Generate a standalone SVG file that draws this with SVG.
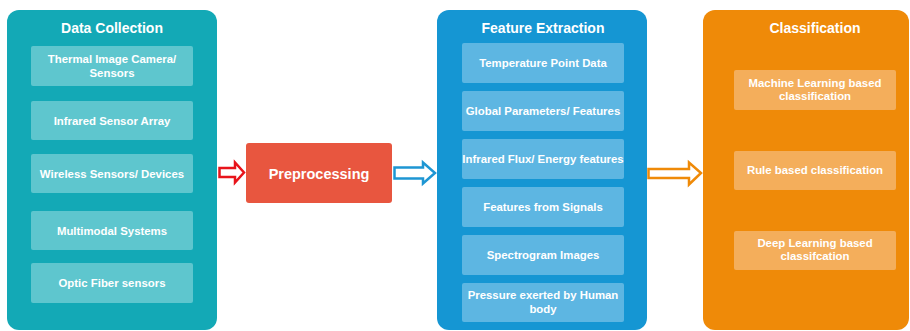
<svg xmlns="http://www.w3.org/2000/svg" width="910" height="331" viewBox="0 0 910 331">
<style>
text{font-family:"Liberation Sans",Arial,sans-serif;font-weight:bold;fill:#fff;text-anchor:middle}
.t{font-size:14px}
.i{font-size:11.4px}
.p1{fill:#13A9B6}.b1{fill:#5EC6CE}
.p2{fill:#1596D3}.b2{fill:#5DB6E2}
.p3{fill:#EF8A08}.b3{fill:#F4AE5B}
.arr{fill:#fff;stroke-width:2.5;stroke-linejoin:miter}
</style>
<rect width="910" height="331" fill="#fff"/>
<g id="data-collection">
<rect class="p1" x="7" y="10" width="210" height="320" rx="12"/>
<text class="t" x="112" y="33">Data Collection</text>
<rect class="b1" x="31" y="46" width="162" height="40" rx="2"/>
<text class="i" x="112" y="63">Thermal Image Camera/</text>
<text class="i" x="112" y="77">Sensors</text>
<rect class="b1" x="31" y="101" width="162" height="39" rx="2"/>
<text class="i" x="112" y="124.5">Infrared Sensor Array</text>
<rect class="b1" x="31" y="154" width="162" height="39" rx="2"/>
<text class="i" x="112" y="177.5">Wireless Sensors/ Devices</text>
<rect class="b1" x="31" y="211" width="162" height="39" rx="2"/>
<text class="i" x="112" y="234.5">Multimodal Systems</text>
<rect class="b1" x="31" y="263" width="162" height="40" rx="2"/>
<text class="i" x="112" y="287">Optic Fiber sensors</text>
</g>
<g id="preprocessing">
<rect x="246" y="143" width="146" height="60" rx="3" fill="#E8563F"/>
<text x="319" y="179" style="font-size:14.5px">Preprocessing</text>
</g>
<g id="feature-extraction">
<rect class="p2" x="437" y="10" width="210" height="320" rx="12"/>
<text class="t" x="543" y="33">Feature Extraction</text>
<rect class="b2" x="462" y="43" width="162" height="40" rx="2"/>
<text class="i" x="543" y="67">Temperature Point Data</text>
<rect class="b2" x="462" y="91" width="162" height="40" rx="2"/>
<text class="i" x="543" y="115">Global Parameters/ Features</text>
<rect class="b2" x="462" y="139" width="162" height="40" rx="2"/>
<text class="i" x="543" y="163">Infrared Flux/ Energy features</text>
<rect class="b2" x="462" y="187" width="162" height="40" rx="2"/>
<text class="i" x="543" y="211">Features from Signals</text>
<rect class="b2" x="462" y="235" width="162" height="40" rx="2"/>
<text class="i" x="543" y="259">Spectrogram Images</text>
<rect class="b2" x="462" y="283" width="162" height="39" rx="2"/>
<text class="i" x="543" y="299">Pressure exerted by Human</text>
<text class="i" x="543" y="313">body</text>
</g>
<g id="classification">
<rect class="p3" x="703" y="10" width="206" height="320" rx="12"/>
<text class="t" x="815" y="33">Classification</text>
<rect class="b3" x="734" y="70" width="162" height="40" rx="2"/>
<text class="i" x="815" y="87">Machine Learning based</text>
<text class="i" x="815" y="100">classification</text>
<rect class="b3" x="734" y="151" width="162" height="39" rx="2"/>
<text class="i" x="815" y="174">Rule based classification</text>
<rect class="b3" x="734" y="231" width="162" height="39" rx="2"/>
<text class="i" x="815" y="247">Deep Learning based</text>
<text class="i" x="815" y="260">classifcation</text>
</g>
<g id="connectors">
<polygon class="arr" stroke="#E8141B" points="219.5,168 235,168 235,162.5 244,172.5 235,182.5 235,177 219.5,177"/>
<polygon class="arr" stroke="#1E96D3" points="394.5,167.5 423,167.5 423,162.5 435,173 423,183.5 423,178.5 394.5,178.5"/>
<polygon class="arr" stroke="#EF8A08" points="648.5,169 689,169 689,162.5 701,173 689,184.5 689,178 648.5,178"/>
</g>
</svg>
